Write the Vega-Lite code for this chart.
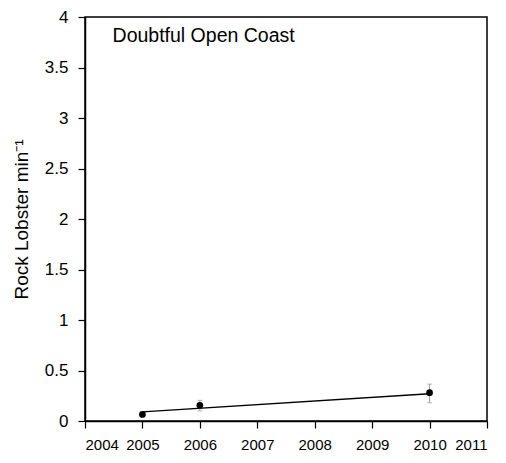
{
  "$schema": "https://vega.github.io/schema/vega-lite/v6.json",
  "width": 402,
  "height": 404,
  "autosize": {"type": "none"},
  "padding": {"left": 85, "top": 17, "right": 19, "bottom": 42},
  "background": "white",
  "config": {
    "view": {"stroke": "black", "strokeWidth": 1.5},
    "font": "Liberation Sans",
    "axis": {
      "grid": false,
      "domainColor": "black",
      "tickColor": "black",
      "labelColor": "black",
      "titleColor": "black",
      "titleFontWeight": "normal",
      "tickSize": 7,
      "domainWidth": 1.5,
      "tickWidth": 1.2
    }
  },
  "datasets": {
    "obs": [
      {"year": 2005, "mean": 0.065, "lo": 0.055, "hi": 0.075},
      {"year": 2006, "mean": 0.155, "lo": 0.1, "hi": 0.205},
      {"year": 2010, "mean": 0.28, "lo": 0.18, "hi": 0.365}
    ],
    "fit": [
      {"year": 2005, "fit": 0.09},
      {"year": 2010, "fit": 0.27}
    ],
    "label": [
      {"year": 2004.48, "val": 3.75, "text": "Doubtful Open Coast"}
    ]
  },
  "layer": [
    {
      "data": {"name": "fit"},
      "mark": {"type": "line", "color": "black", "strokeWidth": 1.3},
      "encoding": {
        "x": {"field": "year", "type": "quantitative", "scale": {"domain": [2004, 2011], "nice": false, "zero": false},
              "axis": {"values": [2004, 2005, 2006, 2007, 2008, 2009, 2010, 2011], "format": "d", "title": null, "labelPadding": 9, "labelFontSize": 15}},
        "y": {"field": "fit", "type": "quantitative", "scale": {"domain": [0, 4], "nice": false},
              "axis": {"values": [0, 0.5, 1, 1.5, 2, 2.5, 3, 3.5, 4], "format": "~g", "title": "Rock Lobster min⁻¹", "titlePadding": 13, "labelPadding": 10, "labelFontSize": 17, "titleFontSize": 19}}
      }
    },
    {
      "data": {"name": "obs"},
      "mark": {"type": "rule", "color": "#999999", "strokeWidth": 1},
      "encoding": {
        "x": {"field": "year", "type": "quantitative"},
        "y": {"field": "lo", "type": "quantitative"},
        "y2": {"field": "hi"}
      }
    },
    {
      "data": {"name": "obs"},
      "mark": {"type": "tick", "color": "#999999", "orient": "horizontal", "size": 5, "thickness": 1},
      "encoding": {
        "x": {"field": "year", "type": "quantitative"},
        "y": {"field": "lo", "type": "quantitative"}
      }
    },
    {
      "data": {"name": "obs"},
      "mark": {"type": "tick", "color": "#999999", "orient": "horizontal", "size": 5, "thickness": 1},
      "encoding": {
        "x": {"field": "year", "type": "quantitative"},
        "y": {"field": "hi", "type": "quantitative"}
      }
    },
    {
      "data": {"name": "obs"},
      "mark": {"type": "point", "filled": true, "color": "black", "size": 45, "opacity": 1},
      "encoding": {
        "x": {"field": "year", "type": "quantitative"},
        "y": {"field": "mean", "type": "quantitative"}
      }
    },
    {
      "data": {"name": "label"},
      "mark": {"type": "text", "align": "left", "baseline": "alphabetic", "fontSize": 19.5, "color": "black"},
      "encoding": {
        "x": {"field": "year", "type": "quantitative"},
        "y": {"field": "val", "type": "quantitative"},
        "text": {"field": "text"}
      }
    }
  ]
}
